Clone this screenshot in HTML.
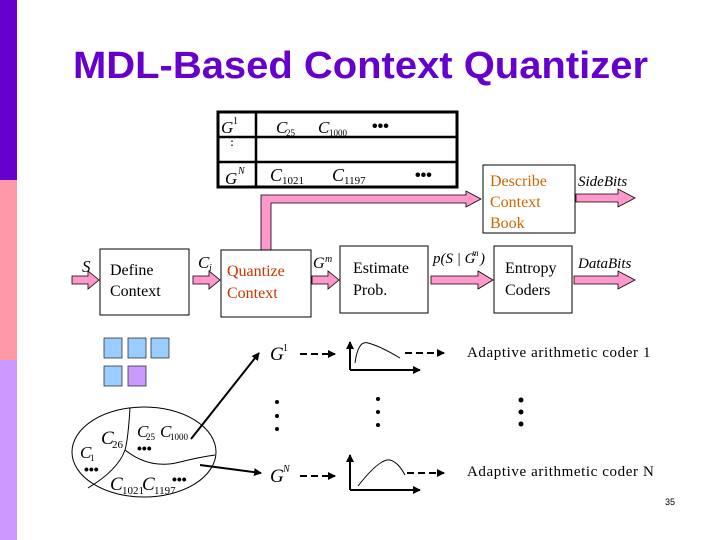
<!DOCTYPE html>
<html><head><meta charset="utf-8"><style>
html,body{margin:0;padding:0;background:#fff}
svg{display:block}
.s{font-family:"Liberation Serif",serif}
.i{font-family:"Liberation Serif",serif;font-style:italic}
</style></head><body>
<svg width="720" height="540" viewBox="0 0 720 540" xmlns="http://www.w3.org/2000/svg">
<defs>
<marker id="ah" markerWidth="8" markerHeight="8" refX="7" refY="4" orient="auto" markerUnits="userSpaceOnUse"><path d="M0,0 L8,4 L0,8 z" fill="#000"/></marker>
</defs>
<rect x="0" y="0" width="17" height="180" fill="#6600cc"/>
<rect x="0" y="180" width="17" height="180" fill="#ff99aa"/>
<rect x="0" y="360" width="17" height="180" fill="#cc99ff"/>
<text x="73" y="78" font-family="Liberation Sans,sans-serif" font-weight="bold" font-size="38" fill="#6600cc" textLength="575" lengthAdjust="spacingAndGlyphs">MDL-Based Context Quantizer</text>

<!-- table -->
<rect x="218" y="112" width="239" height="75" fill="#fff" stroke="#000" stroke-width="3"/>
<line x1="218" y1="137" x2="457" y2="137" stroke="#000" stroke-width="2.5"/>
<line x1="218" y1="162" x2="457" y2="162" stroke="#000" stroke-width="2.5"/>
<line x1="256" y1="112" x2="256" y2="187" stroke="#000" stroke-width="2.5"/>
<text x="221" y="133" class="i" font-size="17">G</text><text x="233" y="124" class="s" font-size="10">1</text>
<text x="226" y="145" class="s" font-size="12">⋮</text>
<text x="225" y="184" class="i" font-size="17">G</text><text x="238" y="174" class="i" font-size="10">N</text>
<text x="276" y="133" class="i" font-size="17">C</text><text x="286" y="136" class="s" font-size="9">25</text>
<text x="318" y="133" class="i" font-size="17">C</text><text x="329" y="136" class="s" font-size="9">1000</text>
<text x="372" y="131" font-family="Liberation Sans" font-weight="bold" font-size="16">•••</text>
<text x="270" y="181" class="i" font-size="18">C</text><text x="282" y="184" class="s" font-size="11">1021</text>
<text x="332" y="181" class="i" font-size="18">C</text><text x="344" y="184" class="s" font-size="11">1197</text>
<text x="415" y="180" font-family="Liberation Sans" font-weight="bold" font-size="16">•••</text>

<!-- pink bar to describe -->
<path d="M261,250 L261,195 L466,195 L466,191 L481,199 L466,207 L466,203 L271,203 L271,250 Z" fill="#ff99cc" stroke="#000" stroke-width="0.8"/>

<!-- boxes -->
<rect x="483" y="165" width="92" height="68" fill="#fff" stroke="#000"/>
<text x="490" y="186" class="s" font-size="16" fill="#cc6600">Describe</text>
<text x="490" y="207" class="s" font-size="16" fill="#cc6600">Context</text>
<text x="490" y="228" class="s" font-size="16" fill="#cc6600">Book</text>

<rect x="100" y="249" width="89" height="66" fill="#fff" stroke="#000"/>
<text x="110" y="275" class="s" font-size="16">Define</text>
<text x="110" y="296" class="s" font-size="16">Context</text>

<rect x="221" y="250" width="90" height="67" fill="#fff" stroke="#000"/>
<text x="227" y="276" class="s" font-size="16" fill="#cc3300">Quantize</text>
<text x="227" y="298" class="s" font-size="16" fill="#cc3300">Context</text>

<rect x="340" y="246" width="88" height="67" fill="#fff" stroke="#000"/>
<text x="353" y="273" class="s" font-size="16">Estimate</text>
<text x="353" y="295" class="s" font-size="16">Prob.</text>

<rect x="494" y="246" width="78" height="67" fill="#fff" stroke="#000"/>
<text x="505" y="273" class="s" font-size="16">Entropy</text>
<text x="505" y="295" class="s" font-size="16">Coders</text>

<!-- pink arrows -->
<g fill="#ff99cc" stroke="#000" stroke-width="0.8">
<path d="M72,276 L88,276 L88,271 L99,280 L88,289 L88,284 L72,284 Z"/>
<path d="M193,276 L209,276 L209,271 L220,280 L209,289 L209,284 L193,284 Z"/>
<path d="M312,276 L328,276 L328,271 L339,280 L328,289 L328,284 L312,284 Z"/>
<path d="M431,276 L478,276 L478,271 L493,280 L478,289 L478,284 L431,284 Z"/>
<path d="M574,276 L618,276 L618,271 L635,280 L618,289 L618,284 L574,284 Z"/>
<path d="M576,194 L618,194 L618,189 L635,198 L618,207 L618,202 L576,202 Z"/>
</g>
<text x="82" y="272" class="i" font-size="17">S</text>
<text x="198" y="268" class="i" font-size="17">C</text><text x="209" y="271" class="i" font-size="10">i</text>
<text x="313" y="268" class="i" font-size="16">G</text><text x="325" y="262" class="i" font-size="10">m</text>
<text x="433" y="263" class="i" font-size="15">p(S | G</text><text x="472" y="256" class="i" font-size="9">m</text><text x="480" y="263" class="i" font-size="15">)</text>
<text x="578" y="268" class="i" font-size="15">DataBits</text>
<text x="578" y="186" class="i" font-size="15">SideBits</text>

<!-- squares -->
<g stroke="#333" stroke-width="0.8">
<rect x="104" y="338" width="18" height="20" fill="#99ccff"/>
<rect x="128" y="338" width="18" height="20" fill="#99ccff"/>
<rect x="151" y="338" width="18" height="20" fill="#99ccff"/>
<rect x="104" y="366" width="18" height="20" fill="#99ccff"/>
<rect x="128" y="366" width="18" height="20" fill="#cc99ff"/>
</g>

<!-- ellipse -->
<ellipse cx="144" cy="452" rx="72" ry="45" fill="#fff" stroke="#000"/>
<path d="M130,408 Q128,440 125,450 Q118,470 88,488" fill="none" stroke="#000"/>
<path d="M125,450 Q150,470 180,462 Q200,457 215,455" fill="none" stroke="#000"/>
<text x="80" y="458" class="i" font-size="17">C</text><text x="90" y="461" class="s" font-size="9">1</text>
<text x="84" y="474" font-family="Liberation Sans" font-weight="bold" font-size="14">•••</text>
<text x="101" y="444" class="i" font-size="19">C</text><text x="112" y="448" class="s" font-size="11">26</text>
<text x="137" y="437" class="i" font-size="17">C</text><text x="146" y="440" class="s" font-size="9">25</text>
<text x="160" y="437" class="i" font-size="17">C</text><text x="170" y="440" class="s" font-size="9">1000</text>
<text x="137" y="453" font-family="Liberation Sans" font-weight="bold" font-size="14">•••</text>
<text x="110" y="490" class="i" font-size="19">C</text><text x="122" y="494" class="s" font-size="11">1021</text>
<text x="142" y="490" class="i" font-size="19">C</text><text x="154" y="494" class="s" font-size="11">1197</text>
<text x="172" y="484" font-family="Liberation Sans" font-weight="bold" font-size="14">•••</text>

<!-- black arrows -->
<line x1="191" y1="439" x2="259" y2="353" stroke="#000" stroke-width="2" marker-end="url(#ah)"/>
<line x1="200" y1="465" x2="261" y2="473" stroke="#000" stroke-width="2" marker-end="url(#ah)"/>

<!-- G1 row -->
<text x="270" y="360" class="i" font-size="19">G</text><text x="283" y="351" class="s" font-size="10">1</text>
<line x1="300" y1="354" x2="335" y2="354" stroke="#000" stroke-width="2" stroke-dasharray="7,4" marker-end="url(#ah)"/>
<line x1="350" y1="370" x2="350" y2="342" stroke="#000" stroke-width="2" marker-end="url(#ah)"/>
<line x1="350" y1="370" x2="420" y2="370" stroke="#000" stroke-width="2" marker-end="url(#ah)"/>
<path d="M355,363 Q358,340 368,343 Q380,346 400,358" fill="none" stroke="#000"/>
<line x1="405" y1="353" x2="444" y2="353" stroke="#000" stroke-width="2" stroke-dasharray="7,4" marker-end="url(#ah)"/>
<text x="467" y="357" class="s" font-size="15" letter-spacing="0.6">Adaptive arithmetic coder 1</text>

<!-- dots -->
<g fill="#000">
<circle cx="277" cy="402" r="2"/><circle cx="277" cy="416" r="2"/><circle cx="277" cy="429" r="2"/>
<circle cx="378" cy="399" r="2"/><circle cx="378" cy="412" r="2"/><circle cx="378" cy="425" r="2"/>
<circle cx="521" cy="400" r="2.5"/><circle cx="521" cy="412" r="2.5"/><circle cx="521" cy="424" r="2.5"/>
</g>

<!-- GN row -->
<text x="270" y="482" class="i" font-size="19">G</text><text x="283" y="472" class="i" font-size="10">N</text>
<line x1="300" y1="476" x2="335" y2="476" stroke="#000" stroke-width="2" stroke-dasharray="7,4" marker-end="url(#ah)"/>
<line x1="350" y1="490" x2="350" y2="455" stroke="#000" stroke-width="2" marker-end="url(#ah)"/>
<line x1="350" y1="490" x2="420" y2="490" stroke="#000" stroke-width="2" marker-end="url(#ah)"/>
<path d="M358,486 Q380,458 390,460 Q398,462 405,475" fill="none" stroke="#000"/>
<line x1="407" y1="473" x2="444" y2="473" stroke="#000" stroke-width="2" stroke-dasharray="7,4" marker-end="url(#ah)"/>
<text x="467" y="476" class="s" font-size="15" letter-spacing="0.6">Adaptive arithmetic coder N</text>

<text x="665" y="505" font-family="Liberation Sans,sans-serif" font-size="9">35</text>
</svg>
</body></html>
